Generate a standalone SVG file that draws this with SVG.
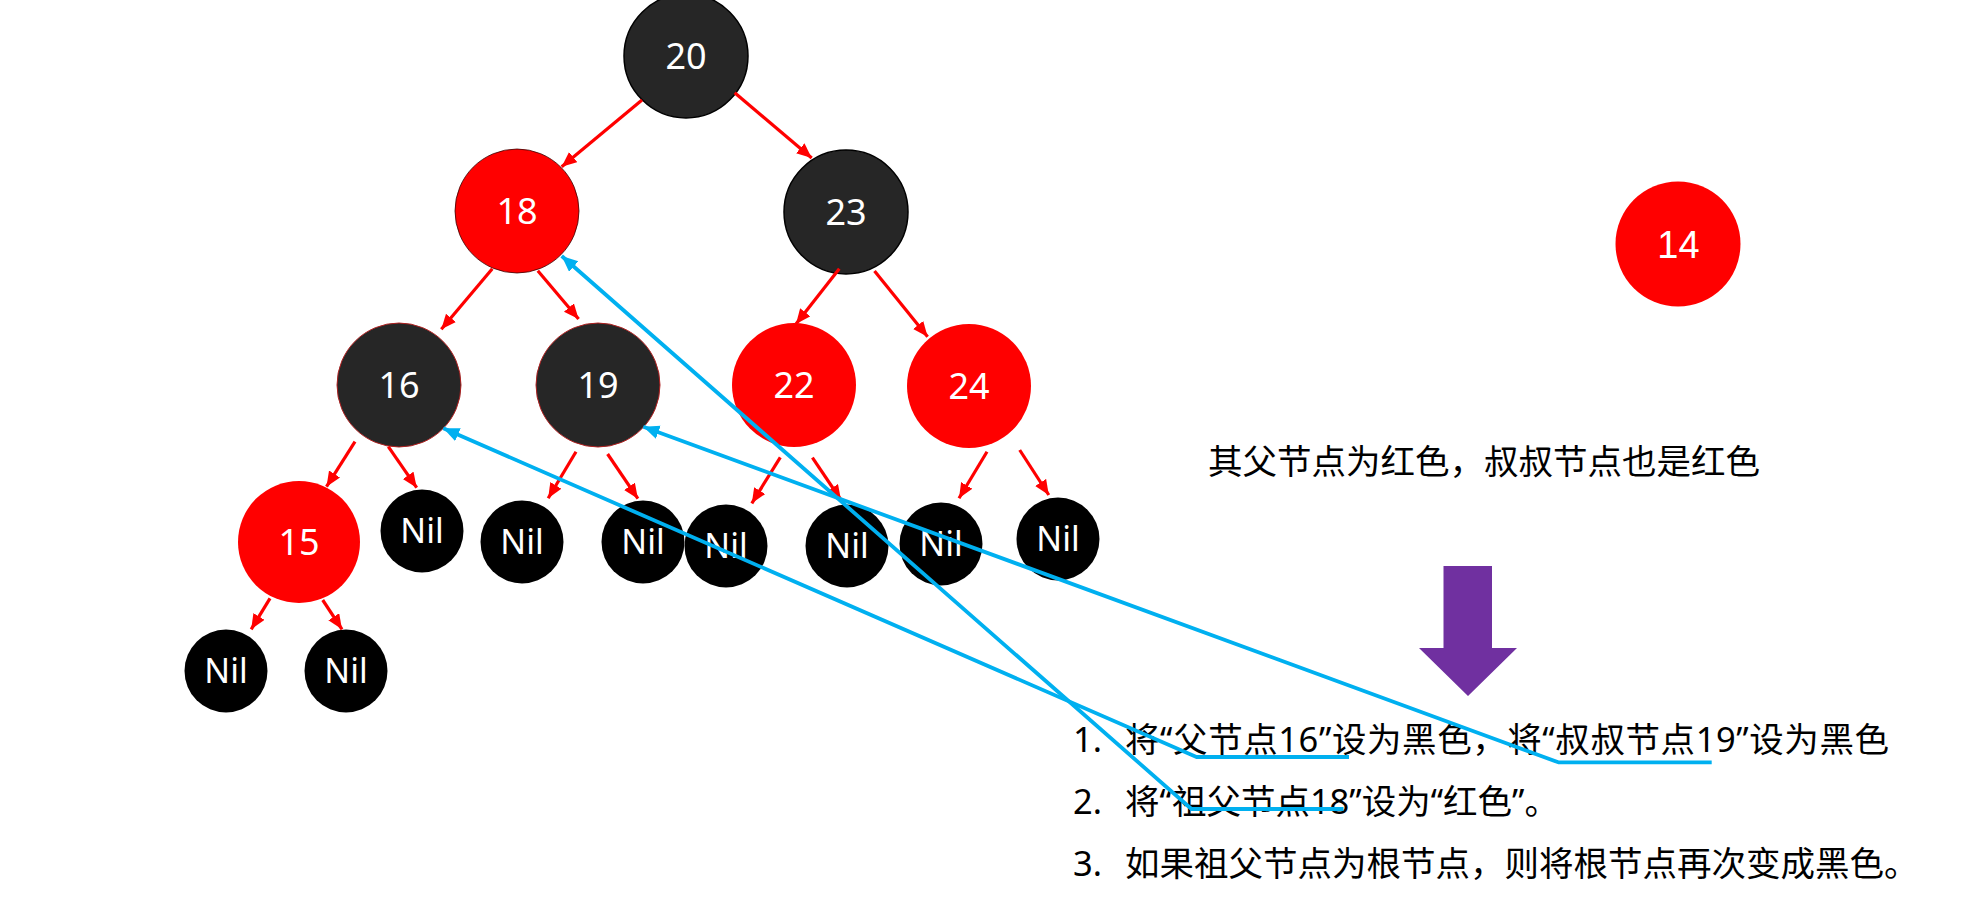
<svg xmlns="http://www.w3.org/2000/svg" width="1968" height="918" viewBox="0 0 1968 918">
<style>
.blk{fill:#262626;stroke:#000;stroke-width:1.5}
.blk2{fill:#262626;stroke:#B02020;stroke-width:1}
.red{fill:#FF0000}
.nil{fill:#000}
.nt{font-family:"Noto Sans","Open Sans",sans-serif;font-size:36px;fill:#fff;text-anchor:middle}
.nilt{font-family:"Noto Sans","Open Sans",sans-serif;font-size:34px;fill:#fff;text-anchor:middle}
.rl{stroke:#FF0000;stroke-width:3.2;fill:none;marker-end:url(#ra)}
.bl{stroke:#00B0F0;stroke-width:3.8;fill:none;stroke-linejoin:round;marker-end:url(#ba)}
.tx{font-family:"Noto Sans","Noto Sans CJK SC",sans-serif;font-size:34.5px;fill:#000}
</style>
<defs>
<marker id="ra" markerUnits="userSpaceOnUse" markerWidth="17" markerHeight="14" refX="15" refY="6.5" orient="auto"><path d="M0,0 L15,6.5 L0,13 z" fill="#FF0000"/></marker>
<marker id="ba" markerUnits="userSpaceOnUse" markerWidth="18" markerHeight="15" refX="16" refY="7" orient="auto"><path d="M0,0 L16,7 L0,14 z" fill="#00B0F0"/></marker>
</defs>
<rect width="1968" height="918" fill="#fff"/>
<g id="n20"><circle class="blk" cx="686" cy="56" r="62"/><text class="nt" x="686" y="69">20</text></g>
<g id="n18"><circle class="red" cx="517" cy="211" r="62" stroke="#3a0000" stroke-width="0.8"/><text class="nt" x="517" y="224">18</text></g>
<g id="n23"><circle class="blk" cx="846" cy="212" r="62"/><text class="nt" x="846" y="225">23</text></g>
<g id="n16"><circle class="blk2" cx="399" cy="385" r="62"/><text class="nt" x="399" y="398">16</text></g>
<g id="n19"><circle class="blk2" cx="598" cy="385" r="62"/><text class="nt" x="598" y="398">19</text></g>
<g id="n22"><circle class="red" cx="794" cy="385" r="62"/><text class="nt" x="794" y="398">22</text></g>
<g id="n24"><circle class="red" cx="969" cy="386" r="62"/><text class="nt" x="969" y="399">24</text></g>
<g id="n15"><circle class="red" cx="299" cy="542" r="61"/><text class="nt" x="299" y="555">15</text></g>
<g id="nil1"><circle class="nil" cx="422" cy="531" r="41.5"/><text class="nilt" x="422" y="543">Nil</text></g>
<g id="nil2"><circle class="nil" cx="522" cy="542" r="41.5"/><text class="nilt" x="522" y="554">Nil</text></g>
<g id="nil3"><circle class="nil" cx="643" cy="542" r="41.5"/><text class="nilt" x="643" y="554">Nil</text></g>
<g id="nil4"><circle class="nil" cx="726" cy="546" r="41.5"/><text class="nilt" x="726" y="558">Nil</text></g>
<g id="nil5"><circle class="nil" cx="847" cy="546" r="41.5"/><text class="nilt" x="847" y="558">Nil</text></g>
<g id="nil6"><circle class="nil" cx="941" cy="544" r="41.5"/><text class="nilt" x="941" y="556">Nil</text></g>
<g id="nil7"><circle class="nil" cx="1058" cy="539" r="41.5"/><text class="nilt" x="1058" y="551">Nil</text></g>
<g id="nil8"><circle class="nil" cx="226" cy="671" r="41.5"/><text class="nilt" x="226" y="683">Nil</text></g>
<g id="nil9"><circle class="nil" cx="346" cy="671" r="41.5"/><text class="nilt" x="346" y="683">Nil</text></g>
<g id="n14"><circle class="red" cx="1678" cy="244" r="62.5"/><text x="1678.5" y="257.5" font-family="'Liberation Sans',Arial,sans-serif" font-size="38" fill="#fff" text-anchor="middle">14</text></g>
<g id="title"><text class="tx" x="1208" y="474">其父节点为红色，叔叔节点也是红色</text></g>
<g id="bigarrow"><polygon points="1443.5,566 1492,566 1492,648 1517,648 1468,696 1419,648 1443.5,648" fill="#7030A0"/></g>
<g id="steps">
<text class="tx" x="1073" y="752">1.</text><text class="tx" x="1125" y="752" textLength="764" lengthAdjust="spacing">将“父节点16”设为黑色，将“叔叔节点19”设为黑色</text>
<text class="tx" x="1073" y="814">2.</text><text class="tx" x="1125" y="814">将“祖父节点18”设为“红色”。</text>
<text class="tx" x="1073" y="876">3.</text><text class="tx" x="1125" y="876">如果祖父节点为根节点，则将根节点再次变成黑色。</text>
</g>
<g id="connectors">
<line class="rl" x1="642" y1="100" x2="561.7" y2="166.7"/>
<line class="rl" x1="734.7" y1="92.7" x2="811.7" y2="158"/>
<line class="rl" x1="492.3" y1="268.7" x2="441.3" y2="329.3"/>
<line class="rl" x1="537.8" y1="270.7" x2="578.6" y2="319"/>
<line class="rl" x1="839.3" y1="268.7" x2="796" y2="324"/>
<line class="rl" x1="874.5" y1="271" x2="927.6" y2="336.7"/>
<line class="rl" x1="355" y1="441.7" x2="326.5" y2="486.7"/>
<line class="rl" x1="388.3" y1="446.7" x2="416.7" y2="487.7"/>
<line class="rl" x1="576" y1="451.7" x2="548.2" y2="498.3"/>
<line class="rl" x1="607.6" y1="454" x2="637.9" y2="498.7"/>
<line class="rl" x1="780.3" y1="457.3" x2="751.8" y2="503.3"/>
<line class="rl" x1="812.4" y1="457.7" x2="841" y2="500"/>
<line class="rl" x1="987" y1="451.7" x2="959" y2="498.3"/>
<line class="rl" x1="1019.7" y1="450" x2="1048.8" y2="495"/>
<line class="rl" x1="270" y1="598.3" x2="251.2" y2="629.3"/>
<line class="rl" x1="322.7" y1="600" x2="342" y2="629.3"/>
<path class="bl" d="M1349,757 L1196.5,757 L443.3,428.3"/>
<path class="bl" d="M1711.7,762.3 L1558.3,762.3 L643.3,426.7"/>
<path class="bl" d="M1343.5,809 L1191.5,809 L561.7,256"/>
</g>
</svg>
